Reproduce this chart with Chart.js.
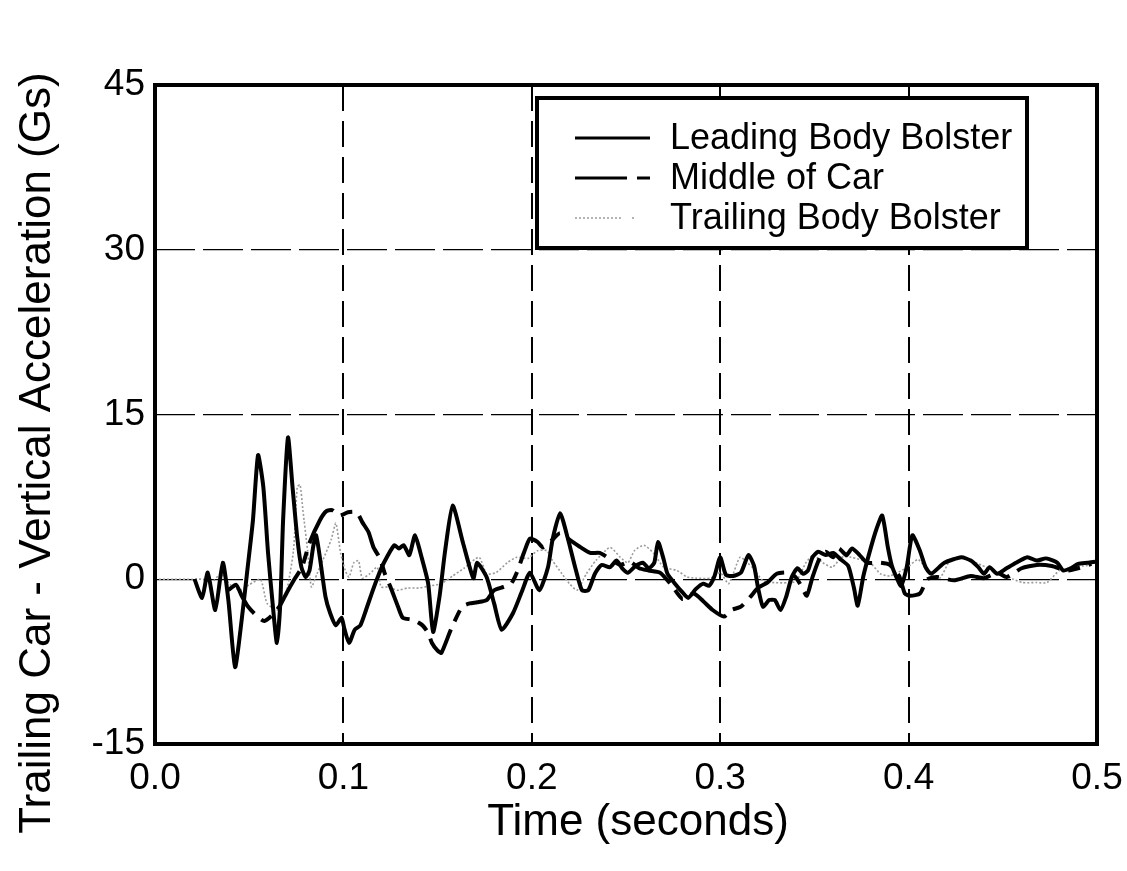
<!DOCTYPE html>
<html>
<head>
<meta charset="utf-8">
<script src="https://cdn.jsdelivr.net/npm/chart.js@4.4.1/dist/chart.umd.min.js"></script>
<style>
  html, body { margin: 0; padding: 0; background: #fff; }
  canvas { display: block; }
</style>
</head>
<body>
<canvas id="chart" width="1127" height="871"></canvas>
<script>
// values (time in s, acceleration in G)
const seriesLabels = ['Leading Body Bolster', 'Middle of Car', 'Trailing Body Bolster'];
const xTitle = 'Time (seconds)';
const yTitle = 'Trailing Car - Vertical Acceleration (Gs)';
const xTicks = [0, 0.1, 0.2, 0.3, 0.4, 0.5];
const yTicks = [-15, 0, 15, 30, 45];

const leadTime = [0.021,0.025,0.028,0.032,0.036,0.039,0.0425,0.046,0.049,0.052,0.0547,0.0575,0.060,0.0626,0.0647,0.0665,0.068,0.0706,0.073,0.0755,0.0777,0.080,0.082,0.084,0.0855,0.0875,0.0905,0.093,0.096,0.099,0.1005,0.103,0.106,0.109,0.112,0.115,0.118,0.1215,0.127,0.1295,0.132,0.135,0.138,0.1415,0.145,0.1476,0.151,0.154,0.158,0.1635,0.169,0.171,0.176,0.180,0.184,0.190,0.195,0.199,0.204,0.2086,0.211,0.215,0.219,0.223,0.2266,0.230,0.2335,0.237,0.2415,0.245,0.248,0.251,0.255,0.259,0.262,0.265,0.267,0.270,0.272,0.276,0.280,0.283,0.287,0.291,0.294,0.297,0.300,0.303,0.307,0.311,0.315,0.318,0.320,0.3227,0.326,0.329,0.332,0.335,0.338,0.341,0.344,0.3466,0.349,0.352,0.356,0.360,0.364,0.368,0.371,0.373,0.376,0.380,0.383,0.386,0.389,0.391,0.394,0.396,0.399,0.402,0.406,0.409,0.412,0.419,0.428,0.433,0.437,0.440,0.443,0.447,0.452,0.457,0.463,0.468,0.473,0.479,0.482,0.486,0.490,0.495,0.499];
const leadAcc = [0,-1.7,0.6,-2.8,1.5,-2.0,-8.0,-3.7,0.8,5.4,11.3,8.4,2.4,-2.5,-5.8,-2.2,5.4,12.9,8.4,3.8,1.1,0.2,0.8,3.0,4.0,2.0,-1.6,-3.1,-4.2,-3.5,-4.5,-5.8,-4.6,-4.2,-2.8,-1.3,0.1,1.5,3.1,2.8,3.1,2.2,4.0,2.0,-0.4,-4.8,-1.6,2.6,6.7,3.3,0.1,1.5,0.2,-2.2,-4.6,-3.1,-1.0,0.6,-1.0,1.1,3.6,6.0,3.8,1.1,-1.0,-1.0,0.5,1.3,1.1,1.7,1.0,0.6,1.2,1.5,1.0,1.5,3.4,1.8,0.5,-0.4,-1.2,-1.7,-0.9,-0.4,-0.6,0.3,2.0,0.4,0.3,0.6,2.2,1.2,-0.7,-2.5,-1.9,-1.9,-2.8,-1.6,0.2,1.0,0.5,0.8,2.0,2.5,2.2,2.4,1.8,1.2,-0.8,-2.4,0.3,2.9,4.6,5.8,2.9,1.3,0.0,-0.6,1.1,4.0,2.6,1.1,0.5,1.5,2.0,1.7,1.1,0.5,1.1,0.5,1.0,1.5,2.0,1.7,1.9,1.5,0.8,1.0,1.4,1.5,1.6];

const midTime = [0.039,0.043,0.046,0.049,0.052,0.055,0.058,0.062,0.066,0.070,0.074,0.078,0.082,0.0876,0.091,0.094,0.098,0.1025,0.107,0.110,0.1133,0.116,0.1194,0.122,0.125,0.129,0.1315,0.137,0.142,0.145,0.147,0.150,0.152,0.157,0.163,0.167,0.171,0.176,0.180,0.185,0.189,0.192,0.196,0.199,0.203,0.206,0.211,0.215,0.220,0.226,0.231,0.236,0.242,0.247,0.252,0.257,0.262,0.268,0.274,0.280,0.286,0.291,0.296,0.302,0.306,0.311,0.316,0.320,0.325,0.330,0.336,0.340,0.343,0.346,0.349,0.353,0.356,0.360,0.363,0.367,0.370,0.374,0.378,0.385,0.390,0.395,0.398,0.401,0.406,0.410,0.415,0.424,0.433,0.440,0.447,0.452,0.460,0.468,0.476,0.484,0.490,0.497];
const midAcc = [-1.0,-0.5,-1.5,-2.4,-3.0,-3.5,-3.8,-3.3,-2.5,-1.2,0.0,1.1,3.3,5.4,6.2,6.3,5.8,6.1,6.1,5.2,4.3,2.9,1.9,0.5,-0.7,-2.5,-3.5,-3.7,-4.2,-4.9,-5.8,-6.5,-6.7,-4.6,-2.5,-2.2,-2.1,-1.9,-1.0,-0.7,-0.4,0.6,2.5,3.7,3.4,2.9,3.6,4.2,3.6,2.9,2.4,2.4,1.8,1.3,1.6,1.0,0.8,0.6,-0.5,-1.8,-1.3,-2.0,-2.8,-3.4,-2.8,-2.5,-1.6,-0.8,-0.3,0.5,0.6,0.2,-0.6,-1.5,0.2,2.0,2.5,2.0,2.8,2.2,2.8,2.2,1.5,1.5,1.3,0.3,-1.3,-1.5,-1.3,0.0,0.2,-0.1,0.3,0.1,0.6,0.2,1.0,1.3,1.2,0.8,1.0,1.4];

const trailTime = [0,0.010,0.020,0.026,0.030,0.035,0.040,0.045,0.050,0.056,0.0595,0.065,0.068,0.070,0.0735,0.0755,0.077,0.0785,0.081,0.083,0.086,0.089,0.0935,0.096,0.0985,0.101,0.103,0.1055,0.108,0.110,0.114,0.118,0.120,0.124,0.1285,0.134,0.140,0.146,0.152,0.158,0.164,0.172,0.176,0.181,0.187,0.192,0.198,0.203,0.208,0.211,0.216,0.220,0.224,0.229,0.234,0.2415,0.247,0.251,0.2545,0.2595,0.2645,0.270,0.277,0.2825,0.287,0.295,0.300,0.3045,0.3105,0.3145,0.3175,0.3225,0.3275,0.340,0.3455,0.3495,0.3545,0.3595,0.3645,0.3695,0.3795,0.385,0.390,0.3995,0.405,0.411,0.4165,0.422,0.4275,0.433,0.4385,0.445,0.4555,0.4605,0.468,0.4735,0.480,0.4855,0.4925,0.498];
const trailAcc = [0,0,0,0,-0.3,0.5,-0.5,-1.0,-0.5,0.0,-2.2,-2.8,-1.9,-1.0,2.6,8.4,8.6,6.3,2.6,-0.7,0.5,1.7,3.6,5.1,2.4,0.8,0.2,1.5,1.7,0.1,0.5,1.1,-0.7,-0.7,-1.0,-0.8,-0.8,-0.6,-0.4,0.3,1.0,2.0,0.5,0.6,1.5,2.0,1.9,2.6,2.6,1.7,0.5,-0.4,-1.0,0.5,1.7,2.9,2.0,1.5,2.6,3.1,2.4,1.1,0.8,0.2,0.1,0.1,0.6,-0.4,2.0,1.5,1.0,-0.1,-0.3,-0.2,1.5,2.2,1.5,1.1,2.0,2.0,1.5,0.5,0.3,1.1,1.8,0.6,0.1,1.7,2.0,1.7,1.3,0.8,0.0,-0.3,-0.3,-0.3,0.8,1.0,1.2,1.3];

function pts(xs, ys) {
  return xs.map((x, i) => ({ x: x, y: ys[i] }));
}

const FONT = '"Liberation Sans", Arial, sans-serif';
const lineStyles = [
  { color: '#000', width: 4, dash: [] },
  { color: '#000', width: 4, dash: [44, 9, 12, 9] },
  { color: '#9a9a9a', width: 1.6, dash: [2, 2] }
];

// white page
const bgPlugin = {
  id: 'bg',
  beforeDraw(c) {
    const ctx = c.ctx;
    ctx.save();
    ctx.fillStyle = '#fff';
    ctx.fillRect(0, 0, c.width, c.height);
    ctx.restore();
  }
};

// heavy frame round the plot, boxed legend, axis titles
const frameLegend = {
  id: 'frameLegend',
  afterDatasetsDraw(c) {
    const ctx = c.ctx;
    const a = c.chartArea;
    ctx.save();
    ctx.strokeStyle = '#000';
    ctx.lineWidth = 4;
    ctx.setLineDash([]);
    ctx.strokeRect(a.left, a.top, a.right - a.left, a.bottom - a.top);

    // legend box
    const bx = 537, by = 98, bw = 490, bh = 150;
    ctx.fillStyle = '#fff';
    ctx.fillRect(bx, by, bw, bh);
    ctx.lineWidth = 4;
    ctx.strokeRect(bx, by, bw, bh);

    const rows = [138, 178, 218];
    ctx.font = '36px ' + FONT;
    ctx.textBaseline = 'middle';
    ctx.fillStyle = '#000';
    seriesLabels.forEach((lab, i) => {
      const st = lineStyles[i];
      ctx.strokeStyle = st.color;
      ctx.lineWidth = i === 2 ? 1.6 : 3;
      ctx.beginPath();
      if (i === 0) {
        ctx.moveTo(575, rows[i]); ctx.lineTo(650, rows[i]);
      } else if (i === 1) {
        ctx.moveTo(575, rows[i]); ctx.lineTo(627, rows[i]);
        ctx.moveTo(637, rows[i]); ctx.lineTo(650, rows[i]);
      } else {
        ctx.setLineDash([2, 2]);
        ctx.moveTo(575, rows[i]); ctx.lineTo(622, rows[i]);
        ctx.moveTo(632, rows[i]); ctx.lineTo(636, rows[i]);
      }
      ctx.stroke();
      ctx.setLineDash([]);
      ctx.fillText(lab, 670, rows[i] + 1);
    });

    // axis titles
    ctx.font = '44px ' + FONT;
    ctx.textAlign = 'center';
    ctx.fillText(xTitle, 638, 823);
    ctx.translate(38, 453);
    ctx.rotate(-Math.PI / 2);
    ctx.fillText(yTitle, 0, 0);
    ctx.restore();
  }
};

function interior(ctx) {
  const n = ctx.scale.ticks.length;
  return ctx.index > 0 && ctx.index < n - 1 ? '#000' : 'rgba(0,0,0,0)';
}

const chart = new Chart(document.getElementById('chart'), {
  type: 'line',
  data: {
    datasets: [
      { label: seriesLabels[0], data: pts(leadTime, leadAcc) },
      { label: seriesLabels[1], data: pts(midTime, midAcc) },
      { label: seriesLabels[2], data: pts(trailTime, trailAcc) }
    ].map((d, i) => Object.assign(d, {
      borderColor: lineStyles[i].color,
      borderWidth: lineStyles[i].width,
      borderDash: lineStyles[i].dash,
      pointRadius: 0,
      tension: 0.2,
      fill: false
    }))
  },
  options: {
    responsive: false,
    animation: false,
    layout: { padding: { left: 0, top: 85, right: 30, bottom: 0 } },
    plugins: { legend: { display: false }, tooltip: { enabled: false } },
    scales: {
      x: {
        type: 'linear',
        min: 0, max: 0.5,
        afterBuildTicks: s => { s.ticks = xTicks.map(v => ({ value: v })); },
        afterFit: s => { s.height = 127; s.paddingLeft = 0; s.paddingRight = 0; },
        ticks: {
          color: '#000', padding: 13,
          font: { family: FONT, size: 37 },
          callback: v => v.toFixed(1)
        },
        grid: { color: interior, lineWidth: 2, drawTicks: false },
        border: { display: false, dash: [26, 10] }
      },
      y: {
        min: -15, max: 45,
        afterBuildTicks: s => { s.ticks = yTicks.map(v => ({ value: v })); },
        afterFit: s => { s.width = 155; s.paddingTop = 0; s.paddingBottom = 0; },
        ticks: {
          color: '#000', padding: 10,
          font: { family: FONT, size: 37 }
        },
        grid: { color: interior, lineWidth: 1.2, drawTicks: false },
        border: { display: false, dash: [40, 8] }
      }
    }
  },
  plugins: [bgPlugin, frameLegend]
});
</script>
</body>
</html>
